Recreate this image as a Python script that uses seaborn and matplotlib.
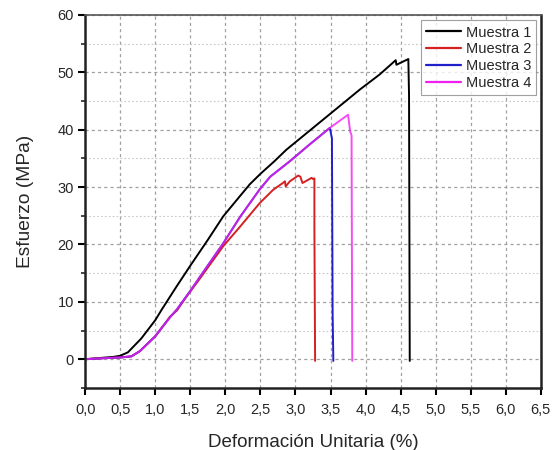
import numpy as np
import pandas as pd
import matplotlib
matplotlib.use("Agg")
import matplotlib.pyplot as plt
import seaborn as sns
from matplotlib.ticker import MultipleLocator, FuncFormatter
from matplotlib.lines import Line2D

# ---- data ----
m1_x = [0.0, 0.2, 0.4, 0.5, 0.61, 0.8, 1.0, 1.09, 1.3, 1.5, 1.75, 1.97, 2.2, 2.35, 2.5,
        2.7, 2.87, 3.3, 3.92, 4.2, 4.43, 4.44, 4.61, 4.62, 4.63]
m1_y = [0.0, 0.2, 0.4, 0.6, 1.2, 3.6, 6.8, 8.6, 12.6, 16.3, 20.8, 24.9, 28.3, 30.5, 32.3,
        34.5, 36.5, 40.8, 47.0, 49.6, 52.1, 51.3, 52.3, 46.0, -0.3]

m2_x = [0.0, 0.3, 0.5, 0.66, 0.78, 1.0, 1.21, 1.31, 1.45, 1.61, 1.97, 2.21, 2.49, 2.68, 2.82,
        2.85, 2.86, 2.92, 3.04, 3.07, 3.10, 3.13, 3.23, 3.25, 3.27, 3.27, 3.28]
m2_y = [0.0, 0.2, 0.3, 0.5, 1.4, 4.0, 7.4, 8.5, 11.0, 13.6, 19.7, 23.1, 27.2, 29.5, 30.7,
        31.0, 30.1, 31.0, 32.0, 31.8, 30.7, 30.9, 31.6, 31.4, 31.5, 23.0, -0.3]

m3_x = [0.0, 0.3, 0.5, 0.66, 0.78, 1.0, 1.21, 1.31, 1.5, 1.64, 1.97, 2.21, 2.49, 2.64,
        2.92, 3.2, 3.49, 3.52, 3.53, 3.54]
m3_y = [0.0, 0.2, 0.3, 0.5, 1.4, 4.0, 7.3, 8.7, 11.9, 14.4, 20.2, 24.8, 29.6, 31.8,
        34.5, 37.4, 40.3, 38.5, 8.0, -0.3]

m4_x = [0.0, 0.3, 0.5, 0.66, 0.78, 1.0, 1.21, 1.31, 1.5, 1.64, 1.97, 2.21, 2.49, 2.64,
        2.92, 3.2, 3.49, 3.75, 3.78, 3.80, 3.81]
m4_y = [0.0, 0.2, 0.3, 0.5, 1.4, 4.0, 7.3, 8.7, 11.9, 14.4, 20.2, 24.8, 29.6, 31.8,
        34.5, 37.4, 40.3, 42.6, 39.7, 39.0, -0.3]

series_names = ["Muestra 1", "Muestra 2", "Muestra 3", "Muestra 4"]
colors = ["#000000", "#d42020", "#2020c8", "#f020f0"]

x_label = "Deformación Unitaria (%)"
y_label = "Esfuerzo (MPa)"

frames = []
for name, xs, ys in zip(series_names, [m1_x, m2_x, m3_x, m4_x], [m1_y, m2_y, m3_y, m4_y]):
    frames.append(pd.DataFrame({"x": xs, "y": ys, "serie": name}))
df = pd.concat(frames, ignore_index=True)

sns.set_style("white")
plt.rcParams["font.family"] = ["Liberation Sans", "DejaVu Sans"]

fig = plt.figure(figsize=(5.53, 4.5), dpi=100)
ax = fig.add_axes([0.154, 0.138, 0.824, 0.829])

ax.grid(True, which="major", color="#a0a0a0", linestyle=(0, (2.5, 2.5)), linewidth=0.9)
ax.grid(True, which="minor", axis="y", color="#c8c8c8", linestyle=(0, (1.5, 2)), linewidth=0.8)
ax.set_axisbelow(True)

sns.lineplot(data=df, x="x", y="y", hue="serie", palette=dict(zip(series_names, colors)),
             sort=False, estimator=None, units="serie", linewidth=1.4, ax=ax, legend=False)
for ln, c in zip(ax.get_lines(), colors):
    if c == "#f020f0":
        ln.set_alpha(0.8)

ax.set_xlim(0, 6.5)
ax.set_ylim(-5, 60)
ax.xaxis.set_major_locator(MultipleLocator(0.5))
ax.yaxis.set_major_locator(MultipleLocator(10))
ax.yaxis.set_minor_locator(MultipleLocator(5))
ax.xaxis.set_major_formatter(FuncFormatter(lambda v, p: f"{v:.1f}".replace(".", ",")))
ax.yaxis.set_major_formatter(FuncFormatter(lambda v, p: f"{v:.0f}"))

ax.tick_params(axis="both", which="major", direction="out", length=5, width=1.5,
               labelsize=10.5, color="black", left=True, bottom=True, pad=3)
ax.tick_params(axis="x", which="major", pad=6)
ax.tick_params(axis="y", which="minor", direction="out", length=3, width=1.2, left=True)
for side in ["left", "bottom", "right"]:
    ax.spines[side].set_linewidth(1.8)
    ax.spines[side].set_color("#222222")
ax.spines["top"].set_linewidth(1.2)
ax.spines["top"].set_color("#555555")

ax.set_xlabel(x_label, fontsize=13.5, labelpad=12)
ax.set_ylabel(y_label, fontsize=13.8, labelpad=17)

handles = [Line2D([], [], color=c, lw=1.6) for c in colors]
leg = ax.legend(handles, series_names, loc="upper right", bbox_to_anchor=(0.99, 0.985),
                frameon=True, fancybox=False, edgecolor="#888888", fontsize=10.5,
                handlelength=2.4, handletextpad=0.3, borderpad=0.35, labelspacing=0.2,
                borderaxespad=0.0)
leg.get_frame().set_linewidth(0.8)

fig.savefig("out.png", dpi=100)
